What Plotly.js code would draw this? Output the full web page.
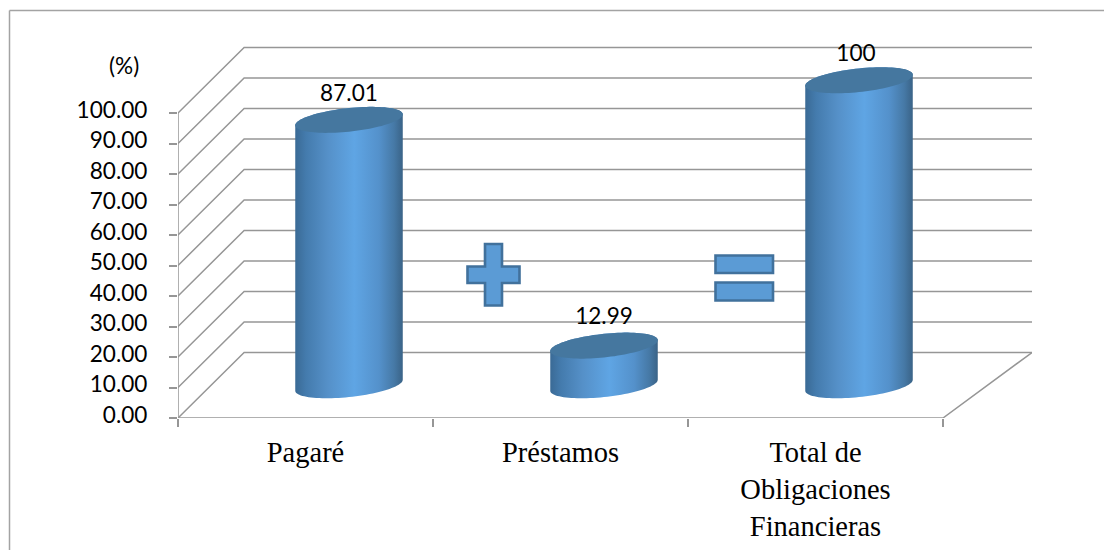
<!DOCTYPE html>
<html>
<head>
<meta charset="utf-8">
<script src="https://cdn.plot.ly/plotly-3.0.1.min.js"></script>
<style>html,body{margin:0;padding:0;background:#fff}#chart{width:1104px;height:550px}</style>
</head>
<body>
<div id="chart"></div>
<script>
// ---- data ----
var categories = ['Pagaré', 'Préstamos', 'Total de<br>Obligaciones<br>Financieras'];
var values = [87.01, 12.99, 100];
var valueLabels = ['87.01', '12.99', '100'];
var labelShiftX = [0, 0, -0.012];
var labelShiftY = [7.9, 8.85, 8.0];
var yTicks = [0, 10, 20, 30, 40, 50, 60, 70, 80, 90, 100];

// ---- pseudo-3D geometry, in axis units ----
var W = 1104, H = 550, L = 178, T = 43, PW = 854, PH = 375;
var XMIN = -0.5, XMAX = 2.849, YMAX = 122.95;
var depthX = 0.3412, depthY = 21.48;      // full floor depth
var midX = depthX / 2, midY = depthY / 2; // the cylinders stand halfway back
var radX = 0.2108, radY = 3.87, tiltY = 1.8;
var frontEnd = 2.5, backEnd = XMAX;

var GRID = '#969696', FRAME = '#a3a3a3';
var gradient = [[0, '#3a6a95'], [0.1, '#447bad'], [0.3, '#5590c8'], [0.55, '#5fa5e4'],
                [0.78, '#5491cb'], [0.92, '#4679a6'], [1, '#3a6387']];
var CAP = '#45779f';

function ellipsePoint(cx, cy, t) {
  return [cx + radX * Math.cos(t), cy + tiltY * Math.cos(t) + radY * Math.sin(t)];
}
function cylinderTraces(i) {
  var cx = i + midX, base = midY, top = values[i] + midY, n = 48, k, p;
  var bx = [], by = [], cxs = [], cys = [];
  for (k = 0; k <= n; k++) { p = ellipsePoint(cx, base, Math.PI + Math.PI * k / n); bx.push(p[0]); by.push(p[1]); }
  for (k = 0; k <= n; k++) { p = ellipsePoint(cx, top, Math.PI * k / n); bx.push(p[0]); by.push(p[1]); }
  for (k = 0; k <= 2 * n; k++) { p = ellipsePoint(cx, top, Math.PI * k / n); cxs.push(p[0]); cys.push(p[1]); }
  return [
    {type: 'scatter', xaxis: 'x2', yaxis: 'y', x: bx, y: by, mode: 'none', fill: 'toself',
     fillgradient: {type: 'horizontal', colorscale: gradient}, hoverinfo: 'skip', showlegend: false},
    {type: 'scatter', xaxis: 'x2', yaxis: 'y', x: cxs, y: cys, mode: 'none', fill: 'toself',
     fillcolor: CAP, hoverinfo: 'skip', showlegend: false}
  ];
}

// wall and floor lines built from the axis ticks
var gx = [], gy = [];
yTicks.forEach(function (v) {
  gx.push(XMIN, XMIN + depthX * 0.76, backEnd, null);
  gy.push(v, v + depthY, v + depthY, null);
});
gx.push(XMIN, XMIN, null, XMIN, frontEnd, backEnd);
gy.push(0, yTicks[yTicks.length - 1], null, 0, 0, depthY);

var traces = [
  {type: 'bar', x: categories, y: values, base: values.map(function () { return midY; }),
   width: 0.3, offset: midX - 0.15, marker: {color: '#5590c8'}, hoverinfo: 'x+y', showlegend: false},
  {type: 'scatter', xaxis: 'x2', yaxis: 'y', x: gx, y: gy, mode: 'lines',
   line: {color: GRID, width: 1.5}, hoverinfo: 'skip', showlegend: false, connectgaps: false}
];
values.forEach(function (v, i) { traces = traces.concat(cylinderTraces(i)); });
traces.push({
  type: 'scatter', xaxis: 'x2', yaxis: 'y', mode: 'text',
  x: values.map(function (v, i) { return i + midX + labelShiftX[i]; }),
  y: values.map(function (v, i) { return v + midY + labelShiftY[i]; }),
  text: valueLabels, textposition: 'middle center',
  textfont: {family: 'Lato', size: 22.6, color: '#000'}, hoverinfo: 'skip', showlegend: false
});

// page-pixel helpers for the decorations that are not data
function px(X) { return (X - L) / PW; }
function py(Y) { return (T + PH - Y) / PH; }
function pagePath(pts) {
  return 'M' + pts.map(function (p) { return px(p[0]) + ',' + py(p[1]); }).join('L') + 'Z';
}
</script>
<script>
// Paper-coordinate SVG paths are not accepted for mixed refs, so the signs use rects / pixel-mapped paths
var SIGN = {type: 'path', xref: 'paper', yref: 'paper', fillcolor: '#5b9bd5', line: {color: '#41719c', width: 2.6}, layer: 'above'};
function sign(pts) { return Object.assign({}, SIGN, {path: pagePath(pts)}); }
function hline(x0, y0, x1, y1) {
  return {type: 'line', xref: 'paper', yref: 'paper', x0: px(x0), y0: py(y0), x1: px(x1), y1: py(y1),
          line: {color: FRAME, width: 1.5}, layer: 'below'};
}
var shapes = [
  hline(9.5, 10.5, 1104, 10.5),
  hline(9.5, 10.5, 9.5, 550),
  sign([[485, 244], [502, 244], [502, 266.5], [519.5, 266.5], [519.5, 283], [502, 283], [502, 305.5], [485, 305.5], [485, 283], [467.5, 283], [467.5, 266.5], [485, 266.5]]),
  sign([[715.5, 255.5], [773, 255.5], [773, 273], [715.5, 273]]),
  sign([[715.5, 282.5], [773, 282.5], [773, 300.5], [715.5, 300.5]])
];

var layout = {
  width: W, height: H, autosize: false,
  margin: {l: L, r: W - L - PW, t: T, b: H - T - PH, pad: 0},
  paper_bgcolor: '#fff', plot_bgcolor: 'rgba(0,0,0,0)',
  showlegend: false, bargap: 0,
  xaxis: {
    type: 'category', categoryorder: 'array', categoryarray: categories,
    range: [XMIN, XMAX], tickson: 'boundaries', ticks: 'outside', ticklen: 8, tickwidth: 1.5, tickcolor: GRID,
    showgrid: false, showline: false, zeroline: false, ticklabelstandoff: 14,
    tickfont: {family: 'Liberation Serif', size: 28.5, color: '#000'}, tickangle: 0
  },
  xaxis2: {
    type: 'linear', overlaying: 'x', range: [XMIN, XMAX], visible: false, fixedrange: true
  },
  yaxis: {
    type: 'linear', range: [0, YMAX], tickmode: 'array', tickvals: yTicks,
    ticktext: yTicks.map(function (v) { return v.toFixed(2); }),
    ticks: 'outside', ticklen: 8, tickwidth: 1.5, tickcolor: GRID, showgrid: false, showline: false, zeroline: false,
    ticklabelstandoff: 17, ticklabelshift: -3,
    tickfont: {family: 'Lato', size: 22.6, color: '#000'}
  },
  shapes: shapes,
  annotations: [{
    xref: 'paper', yref: 'paper', x: px(124), y: py(65), text: '(%)', showarrow: false,
    xanchor: 'center', yanchor: 'middle', font: {family: 'Lato', size: 22.6, color: '#000'}
  }]
};
Plotly.newPlot('chart', traces, layout, {displayModeBar: false, responsive: false});
</script>
</body>
</html>
